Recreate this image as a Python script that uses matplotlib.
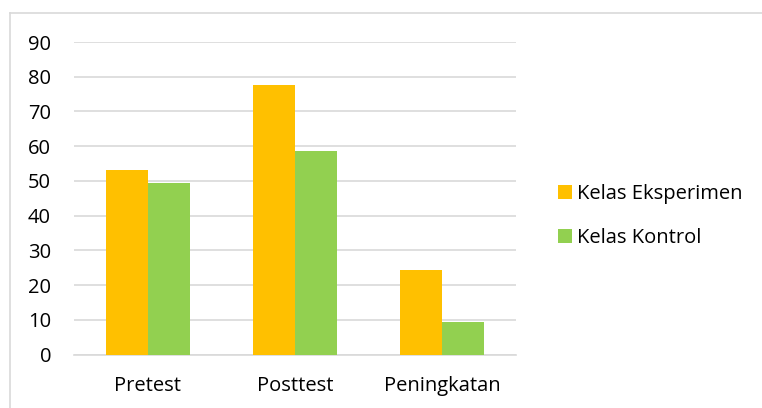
import matplotlib
matplotlib.use("Agg")
import matplotlib.pyplot as plt
import numpy as np
from matplotlib.lines import Line2D

plt.rcParams['font.family'] = ['Open Sans', 'DejaVu Sans']

categories = ["Pretest", "Posttest", "Peningkatan"]
eksperimen = [53.2, 77.5, 24.4]
kontrol = [49.5, 58.7, 9.4]
series_names = ["Kelas Eksperimen", "Kelas Kontrol"]
y_ticks = [0, 10, 20, 30, 40, 50, 60, 70, 80, 90]

fig = plt.figure(figsize=(7.62, 4.08), dpi=100)
ax = fig.add_axes([74 / 762, 1 - 354.5 / 408, 442 / 762, (354.5 - 42) / 408])

x = np.arange(len(categories))
w = 0.285
ax.bar(x - w / 2, eksperimen, w, color="#FFC000", label=series_names[0], zorder=3)
ax.bar(x + w / 2, kontrol, w, color="#92D050", label=series_names[1], zorder=3)

ax.set_xlim(-0.5, 2.5)
ax.set_ylim(0, 90)
ax.set_yticks(y_ticks)
ax.set_xticks(x)
ax.set_xticklabels(categories)
ax.yaxis.grid(True, color="#D9D9D9", linewidth=1.2, zorder=0)
for s in ["top", "right", "left"]:
    ax.spines[s].set_visible(False)
ax.spines["bottom"].set_color("#D9D9D9")
ax.spines["bottom"].set_linewidth(1.2)
ax.tick_params(axis="both", length=0, labelsize=14.5, colors="#000000")
ax.tick_params(axis="y", pad=16.5)
ax.tick_params(axis="x", pad=15.5)

fig.legend(loc="upper left", bbox_to_anchor=(550 / 762, 1 - 176 / 408), frameon=False,
           fontsize=14.5, handlelength=0.7, handleheight=0.7, handletextpad=0.25,
           labelspacing=1.2, borderaxespad=0)

# chart border
fig.add_artist(Line2D([9.5 / 762, 1.0], [1 - 12.5 / 408, 1 - 12.5 / 408], color="#D9D9D9", lw=1.2))
fig.add_artist(Line2D([9.5 / 762, 9.5 / 762], [0, 1 - 12.5 / 408], color="#D9D9D9", lw=1.2))

fig.savefig("out.png", dpi=100)
